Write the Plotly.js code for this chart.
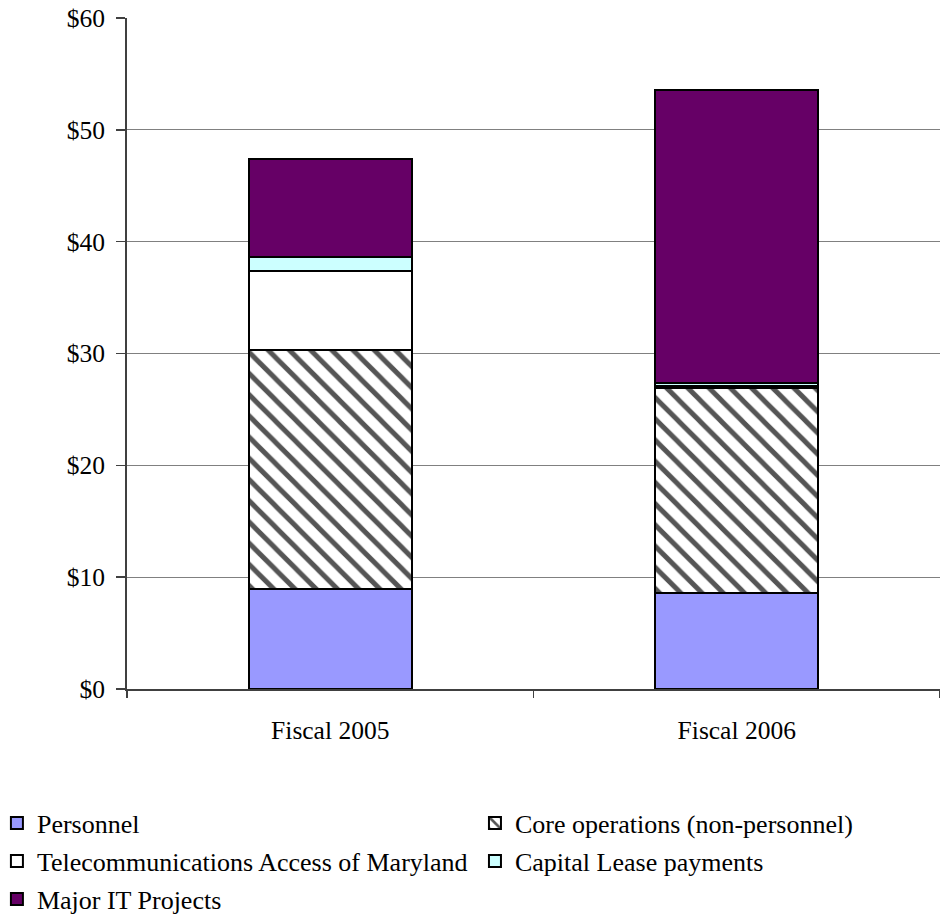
<!DOCTYPE html>
<html><head><meta charset="utf-8">
<script src="https://cdn.plot.ly/plotly-3.0.1.min.js"></script>
<style>body{margin:0;background:#fff}#c{width:940px;height:917px}</style>
</head><body><div id="c"></div>
<script>
const categories = ["Fiscal 2005", "Fiscal 2006"];
const personnel = [8.9, 8.6];
const coreOps = [21.4, 18.35];
const telecom = [7.05, 0.14];
const capitalLease = [1.28, 0.24];
const majorIT = [8.8, 26.2];
const yTickVals = [0, 10, 20, 30, 40, 50, 60];
const yTickText = ["$0", "$10", "$20", "$30", "$40", "$50", "$60"];

const line = {color: "#000", width: 2};
function mk(name, y, color, legend, pattern) {
  const m = {color: color, line: line};
  if (pattern) m.pattern = pattern;
  return {type: "bar", name: name, x: categories, y: y, marker: m, width: 0.4,
          hoverinfo: "skip", legend: legend};
}
const data = [
  mk("Personnel", personnel, "#9999ff", "legend"),
  mk("Core operations (non-personnel)", coreOps, "#ffffff", "legend2",
     {shape: "\\", fgcolor: "#555555", bgcolor: "#ffffff", size: 15, solidity: 0.33}),
  mk("Telecommunications Access of Maryland", telecom, "#ffffff", "legend3"),
  mk("Capital Lease payments", capitalLease, "#ccffff", "legend4"),
  mk("Major IT Projects", majorIT, "#660066", "legend5")
];
function leg(x, y) {
  return {orientation: "h", x: x, xanchor: "left", y: y, yanchor: "middle",
          font: {size: 26}, itemwidth: 30, bgcolor: "rgba(0,0,0,0)", borderwidth: 0};
}
const layout = {
  width: 940, height: 917,
  margin: {l: 127, r: 0, t: 18, b: 228, autoexpand: false},
  barmode: "stack",
  paper_bgcolor: "#fff", plot_bgcolor: "#fff",
  font: {family: "Liberation Serif, Times New Roman, serif", size: 26, color: "#000"},
  showlegend: true,
  xaxis: {
    type: "category", showgrid: false, zeroline: false,
    showline: true, linecolor: "#404040", linewidth: 2,
    ticks: "outside", tickson: "boundaries", ticklen: 7, tickcolor: "#404040", tickwidth: 1.5,
    tickfont: {size: 25.5}, ticklabelstandoff: 17, fixedrange: true
  },
  yaxis: {
    range: [0, 60], tickvals: yTickVals, ticktext: yTickText,
    showgrid: true, gridcolor: "#808080", gridwidth: 1, zeroline: false,
    showline: true, linecolor: "#404040", linewidth: 2,
    ticks: "outside", ticklen: 9, tickcolor: "#404040", tickwidth: 1.5,
    tickfont: {size: 25.5}, ticklabelstandoff: 6, fixedrange: true
  },
  legend: leg(-0.1600, -0.1997),
  legend2: leg(0.4280, -0.1997),
  legend3: leg(-0.1600, -0.2563),
  legend4: leg(0.4280, -0.2563),
  legend5: leg(-0.1600, -0.3130)
};
Plotly.newPlot("c", data, layout, {displayModeBar: false, staticPlot: true});
</script></body></html>
